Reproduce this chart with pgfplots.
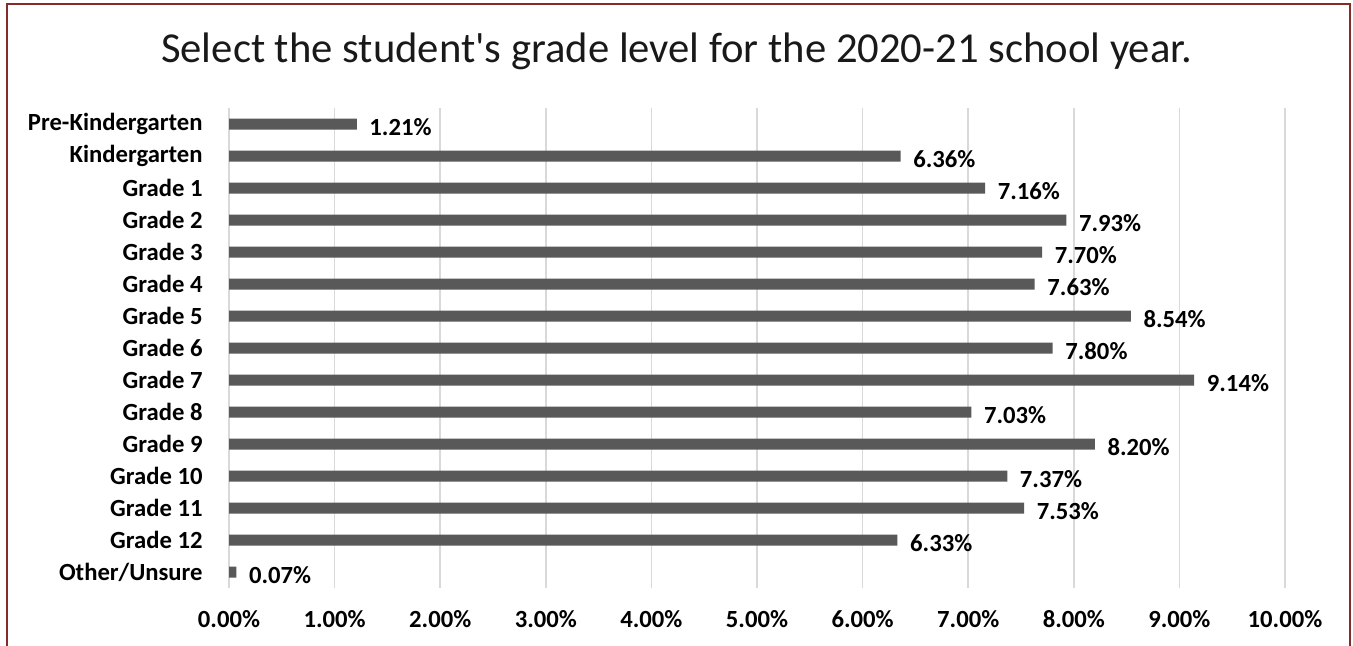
\documentclass[border=0pt]{standalone}
\usepackage{pgfplots}
\pgfplotsset{compat=1.18}
\usepackage{fontspec}
\setmainfont{Carlito}
\newfontfamily\titlefont{Carlito}[Ligatures=TeXOff]
\definecolor{barcol}{HTML}{595959}
\definecolor{gridcol}{HTML}{D9D9D9}
\definecolor{framecol}{HTML}{842B2B}

\pgfplotstableread{
idx share
0 1.21
1 6.36
2 7.16
3 7.93
4 7.70
5 7.63
6 8.54
7 7.80
8 9.14
9 7.03
10 8.20
11 7.37
12 7.53
13 6.33
14 0.07
}\grades

\begin{document}
\begin{tikzpicture}
\begin{axis}[
    at={(171.75pt,43.5pt)}, anchor=south west,
    scale only axis,
    width=792pt, height=360pt,
    xbar, bar width=8.25pt,
    xmin=0, xmax=10,
    ymin=-0.5, ymax=14.5,
    y dir=reverse,
    axis line style={draw=none},
    tick style={draw=none},
    xtick={0,1,...,10},
    xticklabel={\pgfmathprintnumber[fixed,fixed zerofill,precision=2]{\tick}\%},
    xmajorgrids=true,
    grid style={gridcol, line width=1.2pt},
    ytick={0,1,...,14},
    yticklabels={Pre-Kindergarten,Kindergarten,Grade 1,Grade 2,Grade 3,Grade 4,Grade 5,Grade 6,Grade 7,Grade 8,Grade 9,Grade 10,Grade 11,Grade 12,Other/Unsure},
    /pgf/number format/assume math mode=true,
    ticklabel style={font=\fontsize{18.5}{21}\selectfont\bfseries, text=black},
    xticklabel style={yshift=-13pt},
    yticklabel style={xshift=-12pt},
    nodes near coords={\pgfmathprintnumber[fixed,fixed zerofill,precision=2]{\pgfplotspointmeta}\%},
    point meta=x,
    every node near coord/.append style={font=\fontsize{18.5}{21}\selectfont\bfseries, text=black, anchor=west, xshift=6pt, yshift=-2pt},
]
\addplot[fill=barcol, draw=none] table[x=share, y=idx] {\grades};
\end{axis}
\node[font=\titlefont\fontsize{32}{36}\selectfont, text=black!90] at (507.4pt,446pt) {Select the student's grade level for the 2020-21 school year.};
\draw[framecol, line width=1.5pt] (5.6pt,-20pt) |- (1012.2pt,481.5pt) -- (1012.2pt,-20pt);
\pgfresetboundingbox
\useasboundingbox (0,0) rectangle (1014.75pt,484.5pt);
\end{tikzpicture}
\end{document}
